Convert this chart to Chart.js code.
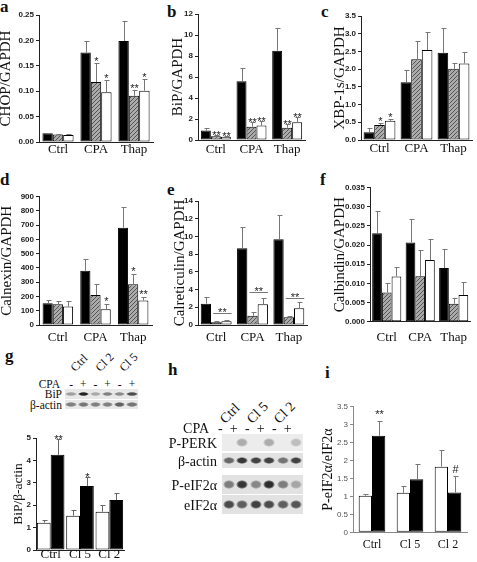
<!DOCTYPE html>
<html>
<head>
<meta charset="utf-8">
<script src="https://cdn.jsdelivr.net/npm/chart.js@4.4.1/dist/chart.umd.min.js"></script>
<style>
  body { margin: 0; background: #fff; }
  #page { position: relative; width: 477px; height: 562px; overflow: hidden; font-family: "Liberation Serif", serif; color: #111; }
  #page canvas { position: absolute; }
  .letter { position: absolute; font: bold 17px "Liberation Serif", serif; line-height: 1; }
  .txt { position: absolute; white-space: nowrap; line-height: 1; }
  .row { position: absolute; display: flex; background: #e2e2e2; }
  .lane { flex: 1; display: flex; align-items: center; justify-content: center; }
  .band { width: 92%; height: 48%; }
</style>
</head>
<body>
<div id="page">
  <div class="letter" style="left:0px;top:-2px">a</div>
  <div class="letter" style="left:167px;top:3px">b</div>
  <div class="letter" style="left:321px;top:3px">c</div>
  <div class="letter" style="left:0px;top:171px">d</div>
  <div class="letter" style="left:167px;top:181px">e</div>
  <div class="letter" style="left:320px;top:171px">f</div>
  <div class="letter" style="left:5px;top:347px">g</div>
  <div class="letter" style="left:168px;top:361px">h</div>
  <div class="letter" style="left:325px;top:364px">i</div>
  <canvas id="ca"></canvas>
  <canvas id="cb"></canvas>
  <canvas id="cc"></canvas>
  <canvas id="cd"></canvas>
  <canvas id="ce"></canvas>
  <canvas id="cf"></canvas>
  <canvas id="cg"></canvas>
  <canvas id="ci"></canvas>
</div>
<script>
const treatLabels = ['Ctrl', 'CPA', 'Thap'];
const cloneLabels = ['Ctrl', 'Cl 5', 'Cl 2'];

// a  CHOP/GAPDH
const chopBlack = [0.017, 0.176, 0.199], chopBlackErr = [0.001, 0.023, 0.039];
const chopHatch = [0.015, 0.118, 0.091], chopHatchErr = [0.001, 0.037, 0.011];
const chopWhite = [0.014, 0.098, 0.101], chopWhiteErr = [0.001, 0.025, 0.024];
const chopHatchMarks = ['', '*', '**'], chopWhiteMarks = ['', '*', '*'];
const chopAxis = [0, 0.25, 0.05];

// b  BiP/GAPDH
const bipBlack = [0.9, 5.6, 8.5], bipBlackErr = [0.25, 1.3, 2.2];
const bipHatch = [0.35, 1.27, 1.17], bipHatchErr = [0.12, 0.48, 0.33];
const bipWhite = [0.32, 1.37, 1.68], bipWhiteErr = [0.09, 0.41, 0.48];
const bipHatchMarks = ['**', '**', '**'], bipWhiteMarks = ['**', '**', '**'];
const bipAxis = [0, 12, 2];

// c  XBP-1s/GAPDH
const xbpBlack = [0.22, 1.63, 2.46], xbpBlackErr = [0.12, 0.35, 0.69];
const xbpHatch = [0.42, 2.28, 2.01], xbpHatchErr = [0.07, 0.51, 0.17];
const xbpWhite = [0.54, 2.54, 2.16], xbpWhiteErr = [0.05, 0.52, 0.31];
const xbpHatchMarks = ['*', '', ''], xbpWhiteMarks = ['*', '', ''];
const xbpAxis = [0, 3.5, 0.5];

// d  Calnexin/GAPDH
const cnxBlack = [152, 381, 683], cnxBlackErr = [23, 79, 147];
const cnxHatch = [145, 210, 285], cnxHatchErr = [26, 78, 75];
const cnxWhite = [129, 110, 171], cnxWhiteErr = [42, 35, 28];
const cnxHatchMarks = ['', '', '*'], cnxWhiteMarks = ['', '*', '**'];
const cnxAxis = [0, 900, 100];

// e  Calreticulin/GAPDH
const crtBlack = [2.41, 8.66, 9.67], crtBlackErr = [0.71, 2.44, 2.75];
const crtHatch = [0.3, 1.05, 0.87], crtHatchErr = [0.11, 0.45, 0.18];
const crtWhite = [0.41, 2.33, 1.88], crtWhiteErr = [0.12, 0.76, 0.72];
const crtBrackets = [1.3, 3.7, 3.1];
const crtAxis = [0, 14, 2];

// f  Calbindin/GAPDH
const cbdBlack = [0.0231, 0.0207, 0.0140], cbdBlackErr = [0.0059, 0.0060, 0.0050];
const cbdHatch = [0.0076, 0.0119, 0.0047], cbdHatchErr = [0.0024, 0.0068, 0.0016];
const cbdWhite = [0.0118, 0.0161, 0.0070], cbdWhiteErr = [0.0024, 0.0055, 0.0034];
const cbdAxis = [0, 0.035, 0.005];

// g  BiP/β-actin
const gWhite = [1.22, 1.53, 1.71], gWhiteErr = [0.1, 0.25, 0.32];
const gBlack = [4.25, 2.86, 2.23], gBlackErr = [0.7, 0.39, 0.3];
const gBlackMarks = ['**', '*', ''];
const gAxis = [0, 5, 1];

// i  P-eIF2α/eIF2α
const iWhite = [1.02, 1.1, 1.83], iWhiteErr = [0.05, 0.2, 0.46];
const iBlack = [2.69, 1.48, 1.11], iBlackErr = [0.42, 0.41, 0.46];
const iBlackMarks = ['**', '', '#'];
const iAxis = [0, 3.5, 0.5];

// blots (band intensity per lane)
const cpaSigns = ['-', '+', '-', '+', '-', '+'];
const gLaneGroups = ['Ctrl', 'Cl 2', 'Cl 5'];
const gRowNames = ['BiP', 'β-actin'];
const gBipBands = [0.35, 0.95, 0.3, 0.5, 0.45, 0.75];
const gActinBands = [0.5, 0.55, 0.5, 0.5, 0.65, 0.55];
const hLaneGroups = ['Ctrl', 'Cl 5', 'Cl 2'];
const hRowNames = ['P-PERK', 'β-actin', 'P-eIF2α', 'eIF2α'];
const hPerkBands = [0, 0.3, 0, 0.3, 0, 0.22];
const hActinBands = [0.6, 0.85, 0.8, 0.8, 0.55, 0.8];
const hPeifBands = [0.5, 0.85, 0.45, 0.9, 0.5, 0.3];
const hEifBands = [0.75, 0.65, 0.8, 0.75, 0.65, 0.7];

function hatchFill(ctx) {
  const t = document.createElement('canvas');
  t.width = 4; t.height = 4;
  const p = t.getContext('2d');
  p.fillStyle = '#ababab'; p.fillRect(0, 0, 4, 4);
  p.strokeStyle = '#555'; p.lineWidth = 1;
  p.beginPath();
  p.moveTo(0, 4); p.lineTo(4, 0);
  p.moveTo(-1, 1); p.lineTo(1, -1);
  p.moveTo(3, 5); p.lineTo(5, 3);
  p.stroke();
  return ctx.createPattern(t, 'repeat');
}

// one-sided error bars, significance marks, brackets
const errPlugin = {
  id: 'errs',
  afterDatasetsDraw(chart, args, o) {
    const ctx = chart.ctx, ys = chart.scales.y;
    ctx.save();
    ctx.lineWidth = 1;
    ctx.font = '11px "Liberation Sans"';
    ctx.textAlign = 'center';
    ctx.textBaseline = 'alphabetic';
    o.sets.forEach((s, di) => {
      chart.getDatasetMeta(di).data.forEach((bar, i) => {
        const x = Math.round(bar.x) + 0.5;
        const yTop = Math.round(ys.getPixelForValue(s.data[i] + s.err[i])) + 0.5;
        ctx.strokeStyle = o.errColor;
        ctx.beginPath();
        ctx.moveTo(x, bar.y); ctx.lineTo(x, yTop);
        ctx.moveTo(x - 2, yTop); ctx.lineTo(x + 3, yTop);
        ctx.stroke();
        const m = s.marks && s.marks[i];
        if (m) {
          ctx.fillStyle = '#222';
          ctx.fillText(m, x, yTop + o.lift);
        }
      });
    });
    (o.brackets || []).forEach((lvl, i) => {
      const a = chart.getDatasetMeta(1).data[i], b = chart.getDatasetMeta(2).data[i];
      const y = Math.round(ys.getPixelForValue(lvl)) + 0.5;
      const x0 = a.x - 3, x1 = b.x + b.width / 2;
      ctx.strokeStyle = o.errColor;
      ctx.beginPath(); ctx.moveTo(x0, y); ctx.lineTo(x1, y); ctx.stroke();
      ctx.fillStyle = '#222';
      ctx.fillText('**', (x0 + x1) / 2, y + o.lift);
    });
    ctx.restore();
  }
};

function barChart(id, c) {
  const [left, top, w, h] = c.box;
  const cv = document.getElementById(id);
  cv.width = w; cv.height = h;
  cv.style.left = left + 'px'; cv.style.top = top + 'px';
  const ctx = cv.getContext('2d');
  const fills = { black: '#000', white: '#fff', hatch: hatchFill(ctx) };
  const axisColor = c.axisColor || '#222';
  new Chart(cv, {
    type: 'bar',
    data: {
      labels: c.labels,
      datasets: c.sets.map(s => ({
        data: s.data,
        backgroundColor: fills[s.kind],
        borderColor: '#000',
        borderWidth: 1,
        borderSkipped: false,
        barPercentage: 1,
        categoryPercentage: c.cat
      }))
    },
    options: {
      responsive: false,
      animation: false,
      devicePixelRatio: 1,
      layout: { padding: { top: c.topY - top, right: left + w - c.xEnd, left: 0, bottom: 0 } },
      plugins: {
        legend: { display: false },
        tooltip: { enabled: false },
        errs: { sets: c.sets, lift: c.lift, brackets: c.brackets, errColor: c.errColor || '#777' }
      },
      scales: {
        x: {
          afterFit: s => { s.height = top + h - c.zeroY; },
          grid: { display: false, drawTicks: false },
          border: { color: axisColor, width: 1 },
          ticks: {
            font: { family: 'Liberation Serif', size: c.labelSize || 13, lineHeight: 1 },
            color: '#111', padding: c.labelPad, maxRotation: 0, autoSkip: false
          }
        },
        y: {
          min: c.axis[0], max: c.axis[1],
          afterFit: s => { s.width = c.axisX - left; },
          ticks: {
            stepSize: c.axis[2],
            callback: c.fmt,
            autoSkip: false,
            font: c.tickFont || { family: 'Liberation Sans', size: 8, weight: 'bold' },
            color: c.tickColor || '#222',
            padding: 2
          },
          grid: { drawOnChartArea: false, tickLength: 3, color: axisColor },
          border: { color: axisColor, width: 1 },
          title: {
            display: true, text: c.title, color: '#111',
            font: { family: 'Liberation Serif', size: c.titleSize || 15, lineHeight: 1 },
            padding: { top: c.titlePad, bottom: 0 }
          }
        }
      }
    },
    plugins: [errPlugin]
  });
}

const trio = (b, be, hh, he, w, we, hm, wm) => [
  { kind: 'black', data: b, err: be },
  { kind: 'hatch', data: hh, err: he, marks: hm },
  { kind: 'white', data: w, err: we, marks: wm }
];

barChart('ca', {
  box: [0, 0, 160, 165], axisX: 39, topY: 15, xEnd: 153, zeroY: 142,
  labels: treatLabels, axis: chopAxis, fmt: v => v.toFixed(2),
  title: 'CHOP/GAPDH', titlePad: -1, labelPad: 1.5, cat: 0.82, lift: 1,
  sets: trio(chopBlack, chopBlackErr, chopHatch, chopHatchErr, chopWhite, chopWhiteErr, chopHatchMarks, chopWhiteMarks)
});
barChart('cb', {
  box: [170, 0, 140, 165], axisX: 198, topY: 14, xEnd: 305, zeroY: 140,
  labels: treatLabels, axis: bipAxis, fmt: v => String(v),
  title: 'BiP/GAPDH', titlePad: 0.5, labelPad: 2.8, cat: 0.84, lift: 3,
  sets: trio(bipBlack, bipBlackErr, bipHatch, bipHatchErr, bipWhite, bipWhiteErr, bipHatchMarks, bipWhiteMarks)
});
barChart('cc', {
  box: [333, 0, 144, 165], axisX: 361, topY: 16, xEnd: 472, zeroY: 140,
  labels: treatLabels, axis: xbpAxis, fmt: v => v.toFixed(1),
  title: 'XBP-1s/GAPDH', titlePad: -0.5, labelPad: 1.8, cat: 0.86, lift: 1,
  sets: trio(xbpBlack, xbpBlackErr, xbpHatch, xbpHatchErr, xbpWhite, xbpWhiteErr, xbpHatchMarks, xbpWhiteMarks)
});
barChart('cd', {
  box: [0, 165, 160, 180], axisX: 39, topY: 196.7, xEnd: 152, zeroY: 325,
  labels: treatLabels, axis: cnxAxis, fmt: v => String(v),
  title: 'Calnexin/GAPDH', titlePad: -0.5, labelPad: 6.5, cat: 0.81, lift: 0.5,
  sets: trio(cnxBlack, cnxBlackErr, cnxHatch, cnxHatchErr, cnxWhite, cnxWhiteErr, cnxHatchMarks, cnxWhiteMarks)
});
barChart('ce', {
  box: [173, 165, 140, 180], axisX: 198, topY: 201, xEnd: 307, zeroY: 325,
  labels: treatLabels, axis: crtAxis, fmt: v => String(v),
  title: 'Calreticulin/GAPDH', titlePad: 0, labelPad: 6.5, cat: 0.85, lift: 2,
  brackets: crtBrackets,
  sets: trio(crtBlack, crtBlackErr, crtHatch, crtHatchErr, crtWhite, crtWhiteErr)
});
barChart('cf', {
  box: [333, 165, 144, 180], axisX: 370, topY: 187.7, xEnd: 473, zeroY: 321.7,
  labels: treatLabels, axis: cbdAxis, fmt: v => v.toFixed(3),
  title: 'Calbindin/GAPDH', titlePad: -0.5, labelPad: 9.3, cat: 0.87, lift: 1,
  sets: trio(cbdBlack, cbdBlackErr, cbdHatch, cbdHatchErr, cbdWhite, cbdWhiteErr)
});
barChart('cg', {
  box: [11, 425, 125, 137], axisX: 36, topY: 438, xEnd: 124, zeroY: 550,
  labels: cloneLabels, axis: gAxis, fmt: v => String(v),
  title: 'BiP/β-actin', titleSize: 13.5, titlePad: 0.25, labelPad: -1.5, cat: 0.94, lift: 3,
  errColor: '#666',
  sets: [
    { kind: 'white', data: gWhite, err: gWhiteErr },
    { kind: 'black', data: gBlack, err: gBlackErr, marks: gBlackMarks }
  ]
});
barChart('ci', {
  box: [321, 395, 156, 167], axisX: 353, topY: 406.7, xEnd: 467, zeroY: 532.3,
  labels: cloneLabels, axis: iAxis, fmt: v => String(v),
  title: 'P-eIF2α/eIF2α', titleSize: 14, titlePad: 0.5, labelPad: 6.7, labelSize: 12, cat: 0.7, lift: -4,
  tickFont: { family: 'Liberation Sans', size: 8 }, tickColor: '#555', axisColor: '#888', errColor: '#777',
  sets: [
    { kind: 'white', data: iWhite, err: iWhiteErr },
    { kind: 'black', data: iBlack, err: iBlackErr, marks: iBlackMarks }
  ]
});

// western blot panels
function addText(text, font, left, top, extra) {
  const d = document.createElement('div');
  d.className = 'txt';
  d.textContent = text;
  d.style.font = font;
  d.style.left = left + 'px';
  d.style.top = top + 'px';
  Object.assign(d.style, extra || {});
  document.getElementById('page').appendChild(d);
  return d;
}

function blot(b) {
  const page = document.getElementById('page');
  const laneW = b.width / 6;
  b.groups.forEach((g, k) => {
    addText(g, b.groupFont, b.left + laneW * (2 * k + 1) + b.groupShift, b.groupBase - b.groupSize,
      { transformOrigin: '0 100%', transform: 'rotate(-45deg)' });
  });
  addText('CPA', b.labelFont, b.cpaRight - 100, b.signY - b.labelSize / 2,
    { width: '100px', textAlign: 'right' });
  cpaSigns.forEach((s, k) => {
    addText(s, b.labelFont, b.left + laneW * (k + 0.5) + b.signShift - 5, b.signY - b.labelSize / 2,
      { width: '10px', textAlign: 'center' });
  });
  b.rows.forEach(r => {
    addText(r.name, b.labelFont, b.left - b.gap - 100, r.top + r.h / 2 - b.labelSize / 2,
      { width: '100px', textAlign: 'right' });
    const row = document.createElement('div');
    row.className = 'row';
    row.style.left = b.left + 'px';
    row.style.top = r.top + 'px';
    row.style.width = b.width + 'px';
    row.style.height = r.h + 'px';
    row.style.background = r.bg || '#e2e2e2';
    r.bands.forEach(v => {
      const lane = document.createElement('div');
      lane.className = 'lane';
      const band = document.createElement('div');
      band.className = 'band';
      const c = a => 'rgba(25,25,25,' + a.toFixed(3) + ')';
      band.style.borderRadius = '50%';
      band.style.background = 'radial-gradient(ellipse closest-side, ' + c(v) + ' 0%, ' + c(v) + ' 60%, ' +
        c(v * 0.5) + ' 85%, ' + c(0) + ' 100%)';
      lane.appendChild(band);
      row.appendChild(lane);
    });
    page.appendChild(row);
  });
}

blot({
  left: 65, width: 73, gap: 3,
  groups: gLaneGroups, groupFont: '12px "Liberation Serif"', groupSize: 12, groupBase: 372, groupShift: 1,
  labelFont: '11.5px "Liberation Serif"', labelSize: 11.5, signY: 384, signShift: 0, cpaRight: 60,
  rows: [
    { name: gRowNames[0], top: 389, h: 10, bands: gBipBands, bg: '#e8e8e8' },
    { name: gRowNames[1], top: 400, h: 9, bands: gActinBands, bg: '#e8e8e8' }
  ]
});
blot({
  left: 222, width: 81, gap: 5,
  groups: hLaneGroups, groupFont: '14px "Liberation Serif"', groupSize: 14, groupBase: 425, groupShift: -8,
  labelFont: '14px "Liberation Serif"', labelSize: 14, signY: 428, signShift: -8.5, cpaRight: 209,
  rows: [
    { name: hRowNames[0], top: 434, h: 17, bands: hPerkBands, bg: '#ececec' },
    { name: hRowNames[1], top: 453, h: 15, bands: hActinBands },
    { name: hRowNames[2], top: 475, h: 19, bands: hPeifBands },
    { name: hRowNames[3], top: 495, h: 19, bands: hEifBands }
  ]
});
</script>
</body>
</html>
